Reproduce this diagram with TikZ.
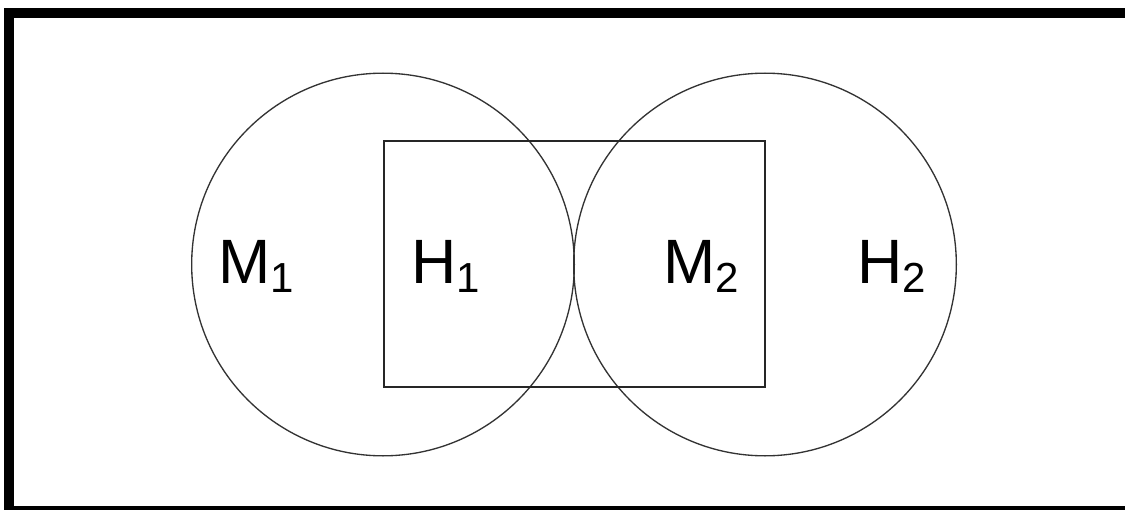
\documentclass[tikz,border=0pt]{standalone}
\usepackage{fontspec}
\setmainfont{Liberation Sans}
\usepackage{tikz}
\usetikzlibrary{positioning}
\newcommand{\setlabel}[2]{#1\raisebox{-6.75pt}{\fontsize{31.5}{32}\selectfont #2}}
\tikzset{
  set-circle/.style={draw=black!80,line width=1pt,circle,minimum size=287pt,inner sep=0pt},
  set-box/.style={draw=black!85,line width=1pt,rectangle,minimum width=285.75pt,
    minimum height=184.5pt,inner sep=0pt},
  set-label/.style={font=\fontsize{47}{50}\selectfont,anchor=base,inner sep=0pt},
  frame-line/.style={line width=7.5pt,draw=black},
}
\begin{document}
\begin{tikzpicture}[x=0.75pt,y=-0.75pt]
  \useasboundingbox (0,0) rectangle (1125,510);
  % outer frame (right edge lies outside the picture)
  \draw[frame-line] (9,13) rectangle (1145,511);
  % the two sets and the box
  \node[set-circle] (m1) at (383,264.5) {};
  \node[set-circle] (m2) at (765,264.5) {};
  \node[set-box]    (hh) at (574.5,264) {};
  % labels
  \node[set-label] (lm1) at (256,283) {\setlabel{M}{1}};
  \node[set-label] (lh1) at (446,283) {\setlabel{H}{1}};
  \node[set-label] (lm2) at (701,283) {\setlabel{M}{2}};
  \node[set-label] (lh2) at (892,283) {\setlabel{H}{2}};
\end{tikzpicture}
\end{document}
